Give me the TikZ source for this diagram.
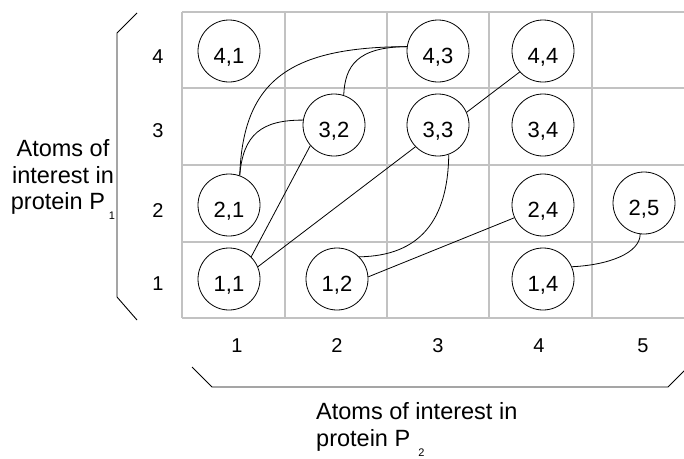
\documentclass[tikz,border=0pt]{standalone}
\usepackage{fontspec}
\setmainfont{Liberation Sans}
\newcommand\lowsub[2]{\hspace{#1}\raisebox{-10pt}[0pt][0pt]{\fontsize{11}{11}\selectfont #2}}
\begin{document}
\begin{tikzpicture}[x=1pt,y=-1pt,
  gridline/.style={draw=black!24, line width=1.3pt},
  atom/.style={circle, draw=black, fill=white, line width=0.8pt, minimum size=62pt,
    inner sep=0pt, text height=24.8pt, text depth=0pt, font=\fontsize{22}{22}\selectfont},
  axisnum/.style={inner sep=0pt, text height=14.3pt, text depth=0pt, font=\fontsize{20}{20}\selectfont},
  link/.style={draw=black, line width=0.8pt},
  brace/.style={draw=black, line width=0.9pt},
  axislabel/.style={inner sep=0pt, font=\fontsize{23.5}{26.5}\selectfont}]
\useasboundingbox (0,0) rectangle (684,458);
% grid
\foreach \y in {12,88,165,242,318} \draw[gridline] (182,\y) -- (684,\y);
\foreach \x in {182,285,387,489,592} \draw[gridline] (\x,12) -- (\x,318);
% atoms
\node[atom] (n41) at (229,51) {4,1};
\node[atom] (n43) at (438,51) {4,3};
\node[atom] (n44) at (543,51) {4,4};
\node[atom] (n32) at (334,125) {3,2};
\node[atom] (n33) at (438,125) {3,3};
\node[atom] (n34) at (543,125) {3,4};
\node[atom] (n21) at (229,205) {2,1};
\node[atom] (n24) at (543,205) {2,4};
\node[atom] (n25) at (644,203) {2,5};
\node[atom] (n11) at (229,279) {1,1};
\node[atom] (n12) at (337,279) {1,2};
\node[atom] (n14) at (543,279) {1,4};
% connectors
\draw[link] (n21.70) .. controls (243,80) and (290,47) .. (n43.172);
\draw[link] (n21.70) .. controls (243,134) and (262,120) .. (n32.171);
\draw[link] (n32.72) .. controls (345,66) and (357,47) .. (n43.172);
\draw[link] (n33.-70) .. controls (448,220) and (420,256) .. (n12.45);
\draw[link] (n14.23) .. controls (609,265) and (640,253) .. (n25.-97);
\draw[link] (n11.45) -- (n32.221);
\draw[link] (n11.23) -- (n33.224);
\draw[link] (n12.4) -- (n24.204);
\draw[link] (n33.24) -- (n44.222);
% axis numbers
\node[axisnum] (r4) at (158,56) {4};
\node[axisnum] (r3) at (158,130) {3};
\node[axisnum] (r2) at (158,210) {2};
\node[axisnum] (r1) at (158,283) {1};
\node[axisnum] (c1) at (237,345) {1};
\node[axisnum] (c2) at (337,345) {2};
\node[axisnum] (c3) at (438,345) {3};
\node[axisnum] (c4) at (539,345) {4};
\node[axisnum] (c5) at (643,345) {5};
% braces
\draw[brace] (137,13) -- (117,33) -- (117,297) -- (137,320);
\draw[brace] (192,367) -- (212,387) -- (668,387) -- (688,367);
% axis labels
\node[axislabel, align=center] (ylab) at (63,177) {Atoms of\\interest in\\protein P\lowsub{4pt}{1}};
\node[axislabel, align=left, anchor=west] (xlab) at (316,427) {Atoms of interest in\\protein P\lowsub{8pt}{2}};
\end{tikzpicture}
\end{document}
